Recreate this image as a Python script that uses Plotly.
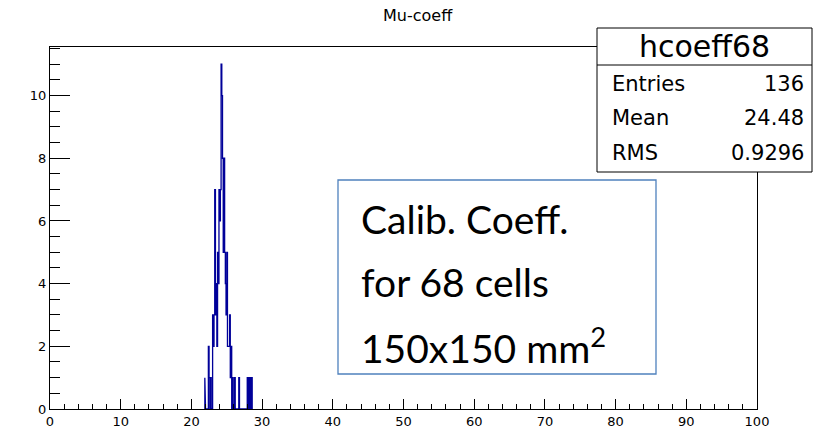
import plotly.graph_objects as go

# ---- data ----
bin_width = 0.1
bin_low = [round(21.9 + i * bin_width, 1) for i in range(67)]
counts = [
    1, 0, 0, 0, 0, 2, 1, 0, 1, 0,      # 21.9 .. 22.8
    0, 3, 2, 3, 7, 3, 4, 2, 5, 4,      # 22.9 .. 23.8
    7, 6, 7, 11, 10, 8, 5, 8, 5, 4,    # 23.9 .. 24.8
    3, 5, 2, 2, 2, 3, 1, 2, 0, 1,      # 24.9 .. 25.8
    0, 0, 1, 0, 0, 0, 0, 0, 1, 0,      # 25.9 .. 26.8
    0, 0, 0, 0, 0, 0, 0, 0, 0, 0,      # 26.9 .. 27.8
    1, 0, 1, 0, 1, 0, 1,               # 27.9 .. 28.5
]
stats_title = "hcoeff68"
stats_labels = ["Entries", "Mean", "RMS"]
stats_values = ["136", "24.48", "0.9296"]
plot_title = "Mu-coeff"
note_lines = ["Calib. Coeff.", "for 68 cells", "150x150 mm<sup>2</sup>"]

# ---- outline histogram path built from bins ----
xs = [bin_low[0]]
ys = [0]
for lo, c in zip(bin_low, counts):
    xs += [lo, lo + bin_width]
    ys += [c, c]
xs.append(bin_low[-1] + bin_width)
ys.append(0)

fig = go.Figure()
fig.add_trace(go.Scatter(x=xs, y=ys, mode="lines",
                         line=dict(color="#000099", width=1.3),
                         hoverinfo="skip", showlegend=False))

axis_font = dict(family="DejaVu Sans", size=13, color="black")
fig.update_layout(
    width=823, height=430,
    margin=dict(l=50, r=66, t=47, b=21, autoexpand=False),
    paper_bgcolor="white", plot_bgcolor="white",
    showlegend=False,
    xaxis=dict(range=[0, 100], dtick=10, tick0=0, ticks="inside", ticklen=10,
               tickcolor="black", tickwidth=1, showgrid=False, zeroline=False,
               showline=True, linecolor="black", linewidth=1, mirror=True,
               tickfont=axis_font, automargin=False,
               minor=dict(dtick=2, ticks="inside", ticklen=5, tickcolor="black", showgrid=False)),
    yaxis=dict(range=[0, 11.55], dtick=2, tick0=0, ticks="inside", ticklen=20,
               tickcolor="black", tickwidth=1, showgrid=False, zeroline=False,
               showline=True, linecolor="black", linewidth=1, mirror=True,
               tickfont=axis_font, automargin=False,
               minor=dict(dtick=0.5, ticks="inside", ticklen=10, tickcolor="black", showgrid=False)),
)

def px_x(p):
    return (p - 50) / 707.0

def px_y(p):
    return (409 - p) / 362.0

# stats box
fig.add_shape(type="rect", xref="paper", yref="paper",
              x0=px_x(597), x1=px_x(812), y0=px_y(172), y1=px_y(28),
              line=dict(color="black", width=1), fillcolor="white", layer="above")
fig.add_shape(type="line", xref="paper", yref="paper",
              x0=px_x(597), x1=px_x(812), y0=px_y(65), y1=px_y(65),
              line=dict(color="black", width=1), layer="above")
fig.add_annotation(text=stats_title, xref="paper", yref="paper",
                   x=px_x(704), y=px_y(46), showarrow=False,
                   xanchor="center", yanchor="middle",
                   font=dict(family="DejaVu Sans", size=30, color="black"))
for i, (lab, val) in enumerate(zip(stats_labels, stats_values)):
    yy = px_y(84 + i * 34.5)
    fig.add_annotation(text=lab, xref="paper", yref="paper", x=px_x(610), y=yy,
                       showarrow=False, xanchor="left", yanchor="middle",
                       font=dict(family="DejaVu Sans", size=21, color="black"))
    fig.add_annotation(text=val, xref="paper", yref="paper", x=px_x(806), y=yy,
                       showarrow=False, xanchor="right", yanchor="middle",
                       font=dict(family="DejaVu Sans", size=21, color="black"))

# note box
fig.add_shape(type="rect", xref="paper", yref="paper",
              x0=px_x(338), x1=px_x(656), y0=px_y(374), y1=px_y(180),
              line=dict(color="#4f81bd", width=1.3), fillcolor="white", layer="above")
for i, t in enumerate(note_lines):
    fig.add_annotation(text=t, xref="paper", yref="paper", x=px_x(359),
                       y=px_y(219 + i * 63), showarrow=False,
                       xanchor="left", yanchor="middle",
                       font=dict(family="Lato", size=39, color="black"))

# title
fig.add_annotation(text=plot_title, xref="paper", yref="paper",
                   x=px_x(418), y=px_y(15), showarrow=False,
                   xanchor="center", yanchor="middle",
                   font=dict(family="DejaVu Sans", size=16, color="black"))

fig.write_html("out.html")
